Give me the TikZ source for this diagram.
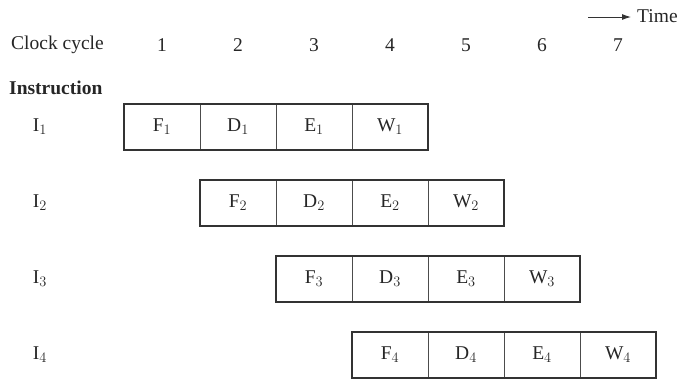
\documentclass[tikz,border=0pt]{standalone}
\usepackage{fontspec}
\setmainfont{Liberation Serif}
\usetikzlibrary{arrows.meta}
\begin{document}
\begin{tikzpicture}[x=1pt,y=-1pt,
  txt/.style={font=\fontsize{19.5}{21}\selectfont, inner sep=0pt, text=black!85},
  cell/.style={draw=black!70, line width=1pt, outer sep=0pt, minimum width=76pt, minimum height=46pt, inner sep=0pt, font=\fontsize{19.5}{21}\selectfont, text=black!85},
  outline/.style={draw=black!80, line width=2pt}]
\useasboundingbox (0,0) rectangle (694,386);
% header
\node[txt, anchor=west] (cc) at (11,45) {Clock cycle};
\foreach \n/\x in {1/162,2/238,3/314,4/390,5/466,6/542,7/618}
  \node[txt] (c\n) at (\x,45) {\n};
\node[txt, anchor=west] (time) at (637,16) {Time};
\coordinate (ts) at (588,17);
\coordinate (te) at (631,17);
\draw[black!80, line width=0.9pt, -{Latex[length=9pt,width=6pt]}] (ts) -- (te);
\node[txt, anchor=west, font=\fontsize{19.5}{21}\bfseries] (instr) at (9,88) {Instruction};
% rows
\foreach \r in {1,2,3,4}{
  \pgfmathsetmacro{\y}{127+76*(\r-1)}
  \pgfmathsetmacro{\xo}{162+76*(\r-1)}
  \node[txt] (I\r) at (40,\y) {I$_{\r}$};
  \node[cell] (F\r) at (\xo,\y) {F$_{\r}$};
  \node[cell, anchor=west] (D\r) at (F\r.east) {D$_{\r}$};
  \node[cell, anchor=west] (E\r) at (D\r.east) {E$_{\r}$};
  \node[cell, anchor=west] (W\r) at (E\r.east) {W$_{\r}$};
  \draw[outline] (F\r.north west) rectangle (W\r.south east);
}
\end{tikzpicture}
\end{document}
